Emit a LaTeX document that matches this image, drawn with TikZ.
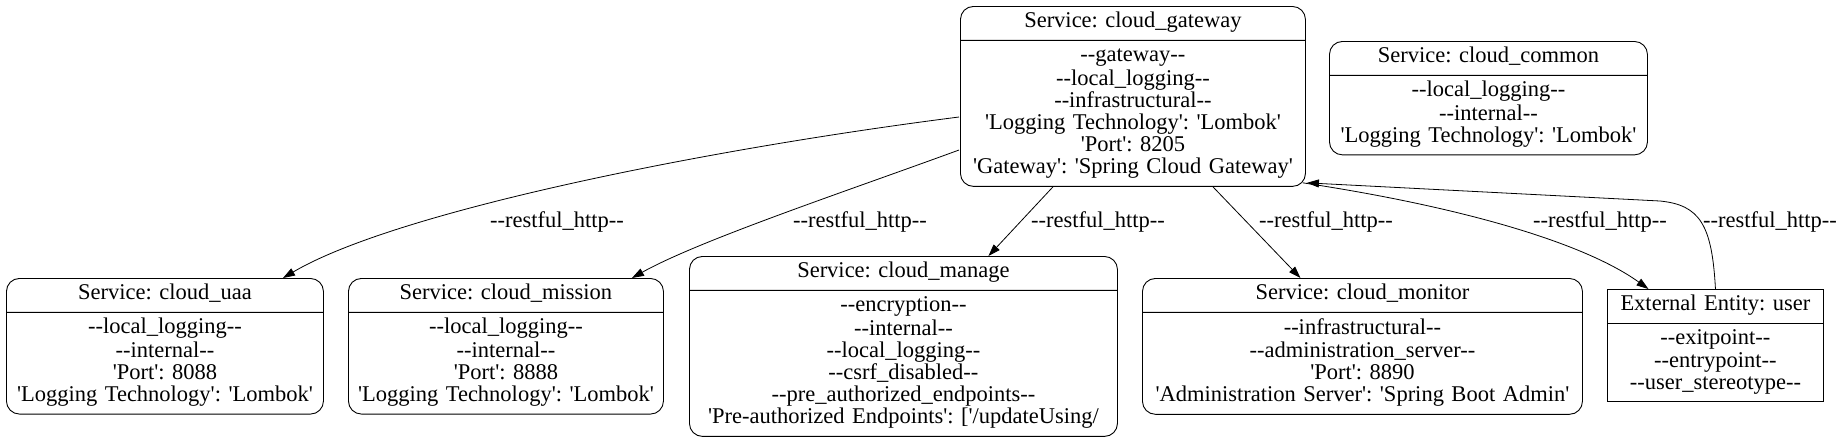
\documentclass[tikz,border=0pt]{standalone}
\usepackage{fontspec}
\newfontfamily\gvfont{Liberation Serif}[Ligatures=TeXOff]
\usetikzlibrary{shapes.multipart,arrows.meta,calc}
\frenchspacing

\tikzset{
  svc/.style={draw, rectangle split, rectangle split parts=2, rounded corners=13pt,
    line width=0.9pt, inner xsep=0pt, inner ysep=5.4pt, align=center, anchor=north west,
    font=\gvfont\fontsize{22.5}{22.2}\selectfont},
  ent/.style={svc, sharp corners},
  flow/.style={-{Triangle[length=12pt,width=8pt]}, line width=0.8pt},
  lbl/.style={font=\gvfont\fontsize{22.5}{22.2}\selectfont, inner sep=0pt}
}

\begin{document}
\begin{tikzpicture}[x=1pt,y=-1pt]
\useasboundingbox (0,0) rectangle (1843,440);
% services
\node[svc, text width=345pt] (gateway) at (960,6) {\strut Service: cloud\_gateway
  \nodepart{two}\strut --gateway--\\--local\_logging--\\--infrastructural--\\'Logging Technology': 'Lombok'\\'Port': 8205\\'Gateway': 'Spring Cloud Gateway'\strut};
\node[svc, text width=318pt] (common) at (1329,41) {\strut Service: cloud\_common
  \nodepart{two}\strut --local\_logging--\\--internal--\\'Logging Technology': 'Lombok'\strut};
\node[svc, text width=317pt] (uaa) at (6,278) {\strut Service: cloud\_uaa
  \nodepart{two}\strut --local\_logging--\\--internal--\\'Port': 8088\\'Logging Technology': 'Lombok'\strut};
\node[svc, text width=315pt] (mission) at (348,278) {\strut Service: cloud\_mission
  \nodepart{two}\strut --local\_logging--\\--internal--\\'Port': 8888\\'Logging Technology': 'Lombok'\strut};
\node[svc, text width=428pt] (manage) at (689,256) {\strut Service: cloud\_manage
  \nodepart{two}\strut --encryption--\\--internal--\\--local\_logging--\\--csrf\_disabled--\\--pre\_authorized\_endpoints--\\'Pre-authorized Endpoints': ['/updateUsing/\strut};
\node[svc, text width=440pt] (monitor) at (1142,278) {\strut Service: cloud\_monitor
  \nodepart{two}\strut --infrastructural--\\--administration\_server--\\'Port': 8890\\'Administration Server': 'Spring Boot Admin'\strut};
% external entity
\node[ent, text width=216pt] (user) at (1607,289) {\strut External Entity: user
  \nodepart{two}\strut --exitpoint--\\--entrypoint--\\--user\_stereotype--\strut};

\coordinate (gwout) at ($(gateway.south east)+(-3,-4)$);
\coordinate (gwin) at ($(gateway.south east)+(1,-4)$);

% flows
\draw[flow] ($(gateway.north west)+(-1,111)$) .. controls (700,150) and (395,212) .. ($(uaa.north)+(118,0)$);
\draw[flow] ($(gateway.north west)+(-1,144)$) .. controls (850,190) and (700,240) .. ($(mission.north)+(126,0)$);
\draw[flow] ($(gateway.south)+(-80,0)$) -- ($(manage.north)+(85,0)$);
\draw[flow] ($(gateway.south)+(80,0)$) -- ($(monitor.north)+(-62,0)$);
\draw[flow] (gwout) .. controls (1450,205) and (1580,240) .. ($(user.north)+(-67,0)$);
\draw[flow] (user.north) .. controls (1712,225) and (1700,205) .. (1660,201) -- (gwin);

\node[lbl] (l1) at (557,222) {--restful\_http--};
\node[lbl] (l2) at (860,222) {--restful\_http--};
\node[lbl] (l3) at (1098,222) {--restful\_http--};
\node[lbl] (l4) at (1326,222) {--restful\_http--};
\node[lbl] (l5) at (1600,222) {--restful\_http--};
\node[lbl] (l6) at (1770,222) {--restful\_http--};
\end{tikzpicture}
\end{document}
